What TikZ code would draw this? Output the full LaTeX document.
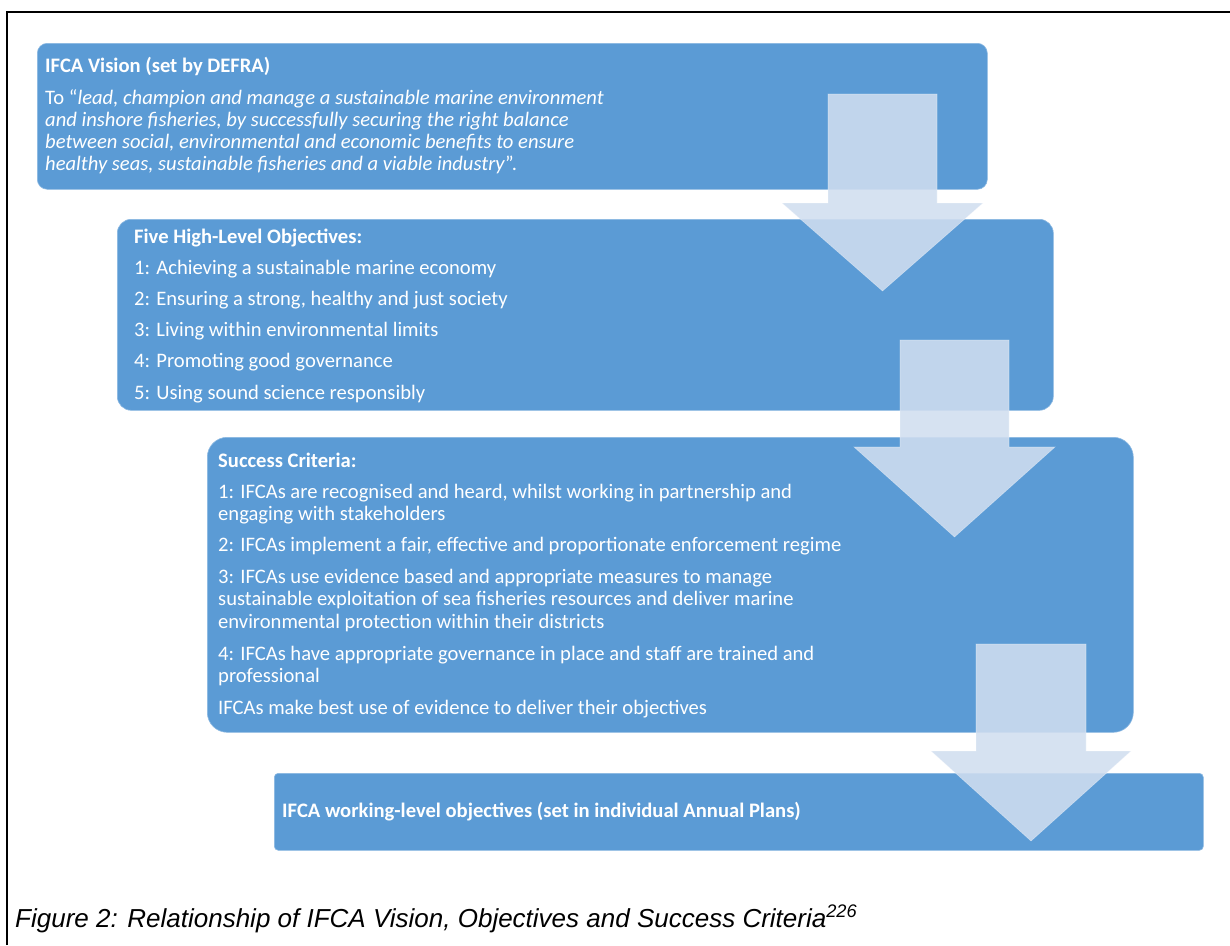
\documentclass[tikz,border=0pt]{standalone}
\usepackage{fontspec}
\setmainfont{Carlito}
\newfontfamily\capfont{Liberation Sans}
\definecolor{boxblue}{HTML}{5B9BD5}
\definecolor{arrowfill}{HTML}{D1DEF0}
\tikzset{
  bluebox/.style={fill=boxblue, draw=boxblue!70!white, line width=0.6pt, anchor=north west, inner sep=0pt},
  txt/.style={anchor=base west, inner sep=0pt, text=white, font=\fontsize{20.6}{24}\selectfont},
  hdr/.style={txt, font=\fontsize{20.6}{24}\selectfont\bfseries},
  blockarrow/.style={fill=arrowfill, fill opacity=0.87, draw=white, draw opacity=0.35, line width=0.6pt},
  frameline/.style={line width=2pt, black}
}
\begin{document}
\begin{tikzpicture}[x=1pt,y=-1pt]
\useasboundingbox (0,0) rectangle (1230,945);
\fill[white] (0,0) rectangle (1230,945);
\draw[frameline] (7,945) -- (7,12) -- (1230,12);

% boxes
\node[bluebox, minimum width=950pt, minimum height=146pt, rounded corners=10pt] (vision) at (37,43) {};
\node[bluebox, minimum width=936pt, minimum height=191pt, rounded corners=14pt] (objectives) at (117,219) {};
\node[bluebox, minimum width=926pt, minimum height=295pt, rounded corners=20pt] (criteria) at (207,437) {};
\node[bluebox, minimum width=929pt, minimum height=77pt, rounded corners=4pt] (working) at (274,773) {};

% box 1 text
\node[hdr] (v0) at (45,72) {IFCA Vision (set by DEFRA)};
\node[txt] (v1) at (45,104) {To “\textit{lead, champion and manage a sustainable marine environment}};
\node[txt] (v2) at (45,126) {\textit{and inshore fisheries, by successfully securing the right balance}};
\node[txt] (v3) at (45,148) {\textit{between social, environmental and economic benefits to ensure}};
\node[txt] (v4) at (45,170) {\textit{healthy seas, sustainable fisheries and a viable industry}”.};

% box 2 text
\node[hdr] (o0) at (134,243) {Five High-Level Objectives:};
\node[txt] (o1) at (134,274) {1: Achieving a sustainable marine economy};
\node[txt] (o2) at (134,305) {2: Ensuring a strong, healthy and just society};
\node[txt] (o3) at (134,336) {3: Living within environmental limits};
\node[txt] (o4) at (134,367) {4: Promoting good governance};
\node[txt] (o5) at (134,399) {5: Using sound science responsibly};

% box 3 text
\node[hdr] (c0) at (218,467) {Success Criteria:};
\node[txt] (c1a) at (218,498) {1: IFCAs are recognised and heard, whilst working in partnership and};
\node[txt] (c1b) at (218,520) {engaging with stakeholders};
\node[txt] (c2) at (218,551) {2: IFCAs implement a fair, effective and proportionate enforcement regime};
\node[txt] (c3a) at (218,583) {3: IFCAs use evidence based and appropriate measures to manage};
\node[txt] (c3b) at (218,605) {sustainable exploitation of sea fisheries resources and deliver marine};
\node[txt] (c3c) at (218,628) {environmental protection within their districts};
\node[txt] (c4a) at (218,660) {4: IFCAs have appropriate governance in place and staff are trained and};
\node[txt] (c4b) at (218,682) {professional};
\node[txt] (c5) at (218,714) {IFCAs make best use of evidence to deliver their objectives};

% box 4 text
\node[hdr] (w0) at (282,817) {IFCA working-level objectives (set in individual Annual Plans)};

% block arrows
\draw[blockarrow] (828,94) -- (937,94) -- (937,203) -- (983,203) -- (882.5,291) -- (782,203) -- (828,203) -- cycle;
\draw[blockarrow] (900,340) -- (1009,340) -- (1009,447) -- (1055,447) -- (954.5,537) -- (854,447) -- (900,447) -- cycle;
\draw[blockarrow] (976,644) -- (1086,644) -- (1086,751) -- (1131,751) -- (1031,841) -- (931,751) -- (976,751) -- cycle;

% caption
\node[anchor=base west, inner sep=0pt, font=\capfont\itshape\fontsize{26}{30}\selectfont] (caption) at (15,927) {Figure 2: Relationship of IFCA Vision, Objectives and Success Criteria\textsuperscript{226}};
\end{tikzpicture}
\end{document}
